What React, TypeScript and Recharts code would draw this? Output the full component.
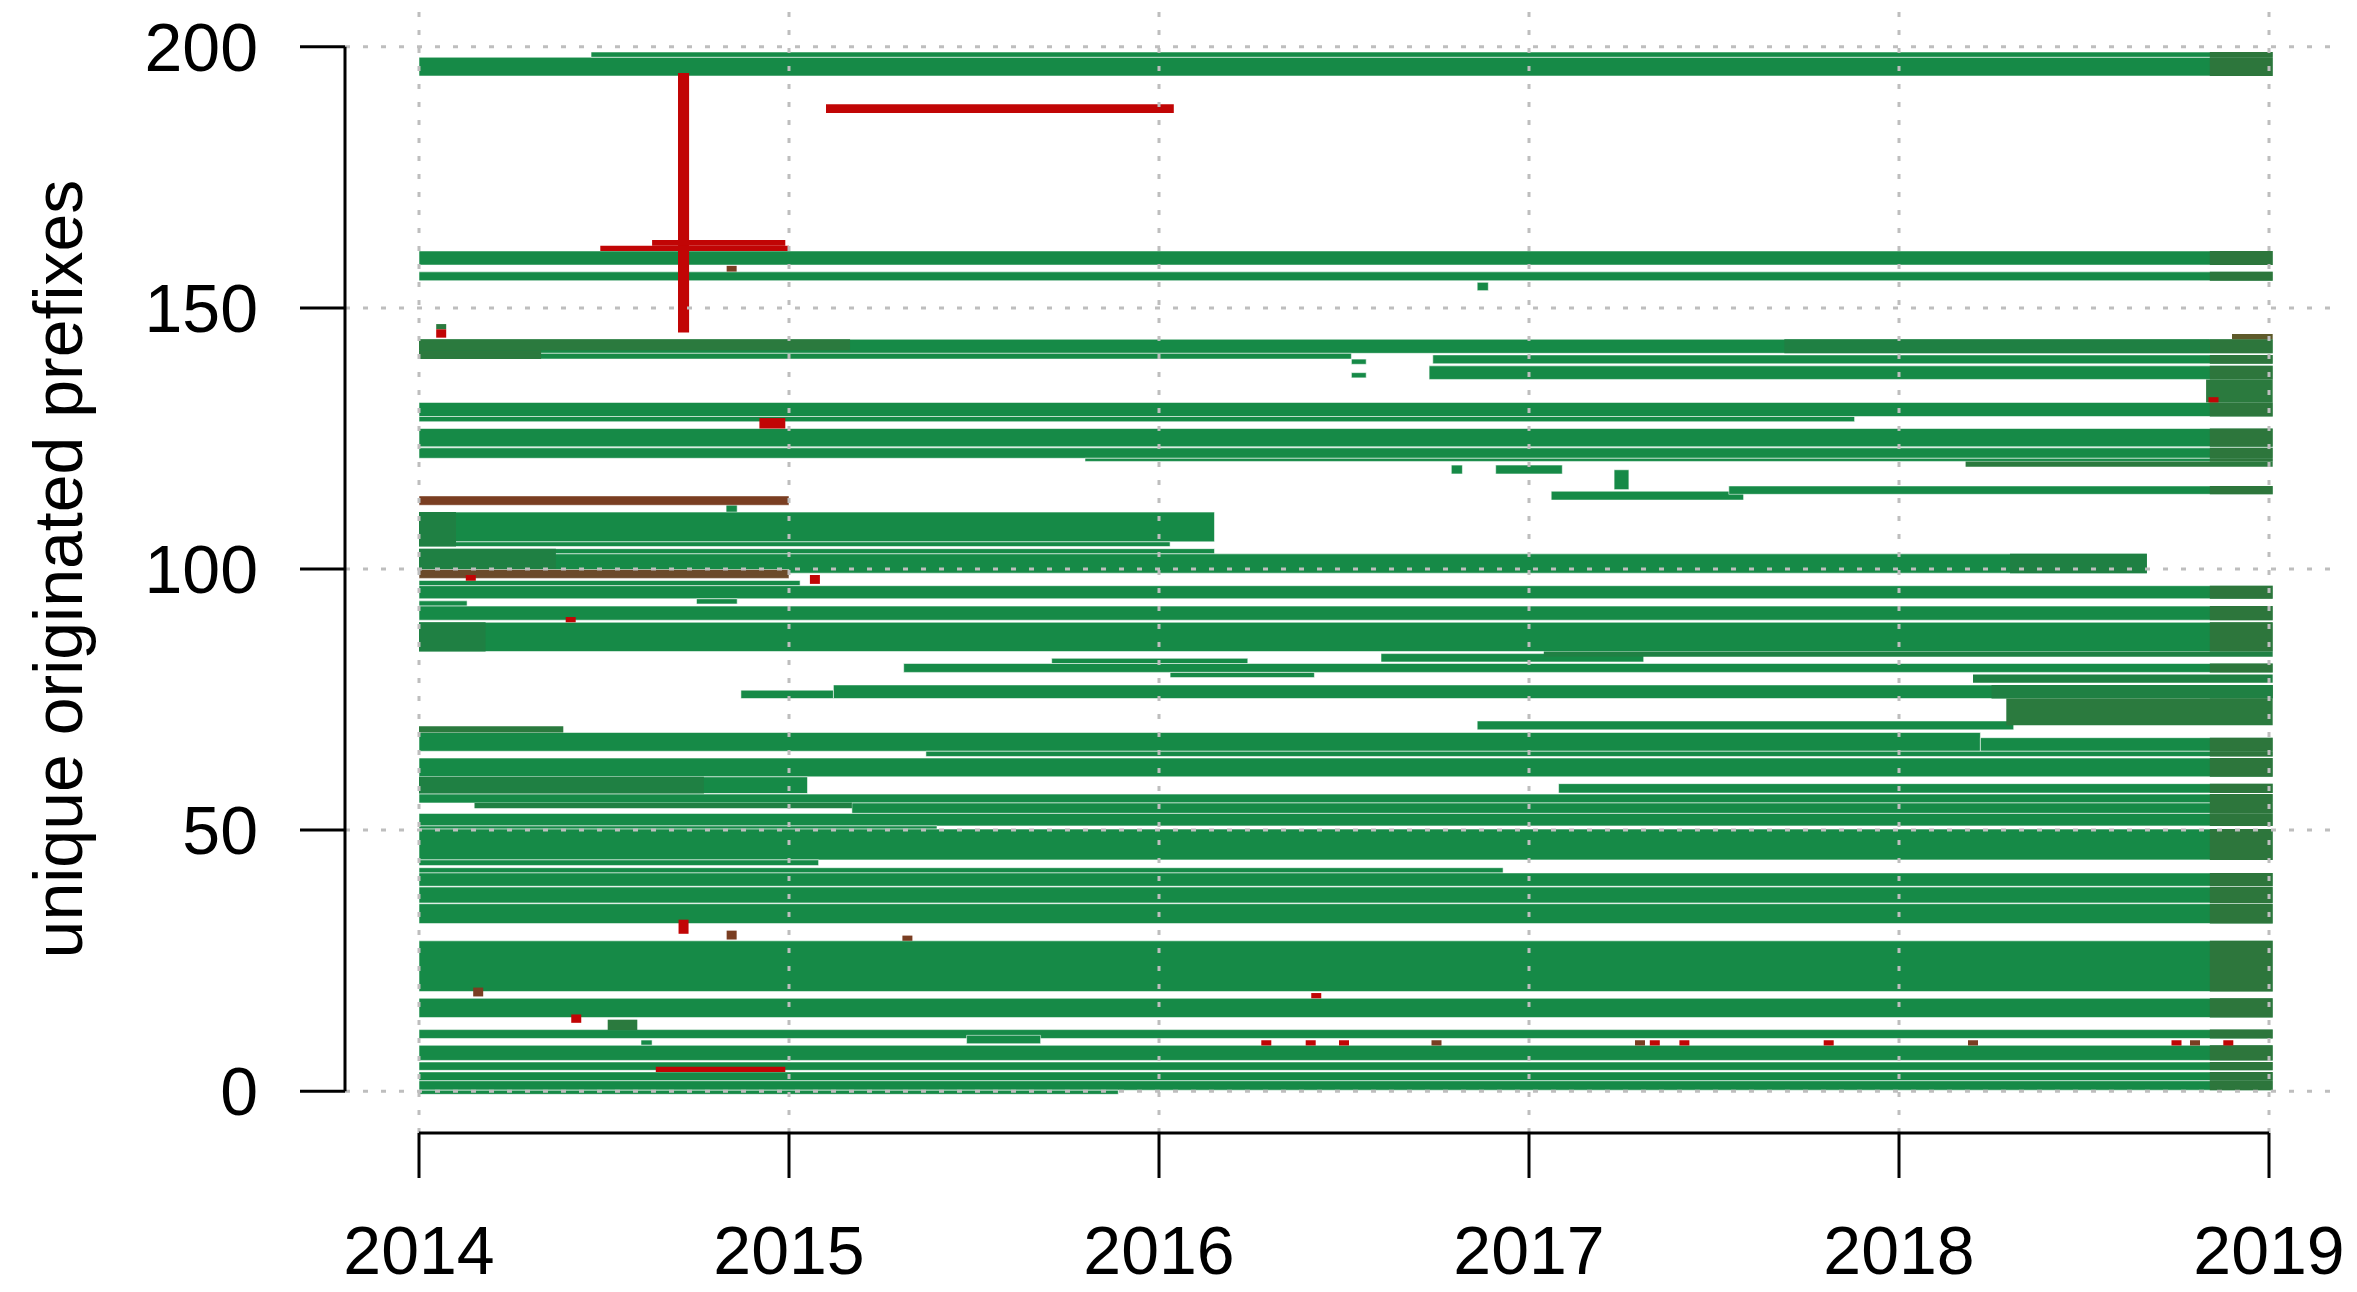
import React from "react";
import {
  ScatterChart,
  Scatter,
  XAxis,
  YAxis,
  ReferenceArea,
  ReferenceLine,
  Label,
} from "recharts";

// time axis runs 2014..2019, rows are prefix indices 0..200
const END = 2019.01;
const TAIL_START = 2018.84;
const yearTicks = [2014, 2015, 2016, 2017, 2018, 2019];
const countTicks = [0, 50, 100, 150, 200];

// [from year, to year, low row, high row]
type Seg = [number, number, number, number];

const greenSegs: Seg[] = [
  [2014.0, END, 194.4, 198.0],
  [2014.465, END, 198.0, 199.0],
  [2014.0, END, 158.2, 160.9],
  [2014.0, END, 155.2, 156.9],
  [2016.86, 2016.89, 153.3, 154.9],
  [2014.0, END, 141.3, 144.0],
  [2014.0, 2016.52, 140.2, 141.3],
  [2016.74, END, 139.3, 141.0],
  [2016.73, END, 136.3, 138.9],
  [2016.52, 2016.56, 139.2, 140.2],
  [2016.52, 2016.56, 136.6, 137.6],
  [2014.0, END, 129.2, 131.9],
  [2014.0, 2017.88, 128.2, 129.2],
  [2014.0, END, 123.4, 126.9],
  [2014.0, END, 121.2, 123.2],
  [2015.8, END, 120.6, 121.2],
  [2016.79, 2016.82, 118.2, 119.9],
  [2016.91, 2017.09, 118.2, 119.9],
  [2017.23, 2017.27, 115.2, 119.0],
  [2017.06, 2017.58, 113.2, 114.9],
  [2017.54, END, 114.3, 115.9],
  [2014.83, 2014.86, 110.6, 112.6],
  [2014.0, 2016.15, 105.2, 110.9],
  [2014.0, 2016.03, 104.3, 105.2],
  [2014.0, 2016.15, 102.9, 103.9],
  [2014.0, 2018.67, 99.2, 102.9],
  [2014.0, 2015.03, 96.8, 97.8],
  [2014.0, END, 94.3, 96.8],
  [2014.75, 2014.86, 93.3, 94.3],
  [2014.0, 2014.13, 92.9, 93.9],
  [2014.0, END, 90.2, 92.9],
  [2014.0, END, 84.2, 89.8],
  [2016.6, 2017.31, 82.2, 83.8],
  [2015.31, END, 80.2, 81.9],
  [2015.71, 2016.24, 81.9, 82.9],
  [2016.03, 2016.42, 79.2, 80.2],
  [2015.12, END, 75.2, 77.8],
  [2014.87, 2015.12, 75.2, 76.8],
  [2016.86, 2018.31, 69.2, 70.9],
  [2014.0, 2018.22, 65.1, 68.7],
  [2018.22, END, 65.1, 67.7],
  [2015.37, END, 64.1, 65.1],
  [2014.0, END, 60.2, 63.8],
  [2014.0, 2015.05, 57.0, 60.2],
  [2017.08, END, 57.1, 58.9],
  [2014.0, END, 55.2, 56.9],
  [2015.17, END, 53.2, 55.2],
  [2014.0, END, 50.8, 53.2],
  [2014.0, 2015.4, 50.2, 50.8],
  [2014.0, END, 44.3, 50.2],
  [2014.0, 2015.08, 43.2, 44.3],
  [2014.0, 2016.93, 41.8, 42.8],
  [2014.0, END, 39.25, 41.8],
  [2014.0, END, 36.05, 39.1],
  [2014.0, END, 32.1, 35.9],
  [2014.0, END, 19.1, 28.8],
  [2014.0, END, 14.1, 17.8],
  [2014.0, END, 10.1, 11.8],
  [2015.48, 2015.68, 9.1, 10.7],
  [2014.6, 2014.63, 8.8, 9.8],
  [2014.0, END, 5.9, 8.8],
  [2014.0, END, 4.0, 5.6],
  [2014.0, END, 2.0, 3.7],
  [2014.0, END, 0.2, 2.0],
  [2014.0, 2015.89, -0.6, 0.2],
];

// clearly darker stretches
const darkSegs: Seg[] = [
  [2014.0, 2015.165, 141.9, 144.0],
  [2014.0, 2014.33, 140.2, 141.9],
  [2018.83, END, 131.9, 136.3],
  [2018.18, END, 119.6, 120.6],
  [2018.29, END, 70.1, 75.2],
  [2014.0, 2014.39, 68.7, 69.9],
  [2014.51, 2014.59, 11.7, 13.7],
];

// slightly darker stretches
const midSegs: Seg[] = [
  [2017.69, TAIL_START, 141.3, 144.0],
  [2014.0, 2014.1, 104.3, 110.9],
  [2014.0, 2014.37, 99.2, 103.9],
  [2018.3, 2018.67, 99.2, 102.9],
  [2014.0, 2014.18, 84.2, 89.8],
  [2017.04, END, 83.2, 84.2],
  [2018.2, END, 78.2, 79.8],
  [2018.25, END, 75.2, 77.8],
  [2014.0, 2014.77, 57.0, 60.2],
  [2014.15, 2015.17, 54.2, 55.2],
];

const redSegs: Seg[] = [
  [2014.7, 2014.73, 145.3, 195.0],
  [2015.1, 2016.04, 187.3, 189.0],
  [2014.49, 2015.0, 160.9, 161.9],
  [2014.63, 2014.99, 161.9, 163.0],
  [2014.92, 2014.99, 126.9, 128.9],
  [2014.64, 2014.99, 3.7, 4.7],
];

const brownSegs: Seg[] = [
  [2014.0, 2015.0, 112.2, 114.0],
  [2014.0, 2015.0, 98.2, 99.9],
];

const oliveSegs: Seg[] = [[2018.9, END, 144.0, 145.0]];

// single-day events: year, row, height in rows
const redMarks = [
  { x: 2014.06, y: 145.1, h: 1.6 },
  { x: 2018.85, y: 132.4, h: 1.0 },
  { x: 2014.14, y: 98.3, h: 1.1 },
  { x: 2015.07, y: 98.0, h: 1.7 },
  { x: 2014.41, y: 90.3, h: 1.0 },
  { x: 2014.715, y: 31.5, h: 2.7 },
  { x: 2016.425, y: 18.3, h: 1.0 },
  { x: 2014.425, y: 13.9, h: 1.6 },
  { x: 2016.29, y: 9.26, h: 1.0 },
  { x: 2016.41, y: 9.26, h: 1.0 },
  { x: 2016.5, y: 9.26, h: 1.0 },
  { x: 2017.34, y: 9.26, h: 1.0 },
  { x: 2017.42, y: 9.26, h: 1.0 },
  { x: 2017.81, y: 9.26, h: 1.0 },
  { x: 2018.75, y: 9.26, h: 1.0 },
  { x: 2018.89, y: 9.26, h: 1.0 },
];

const brownMarks = [
  { x: 2014.845, y: 157.5, h: 1.1 },
  { x: 2014.845, y: 29.9, h: 1.7 },
  { x: 2015.32, y: 29.3, h: 1.0 },
  { x: 2014.16, y: 19.0, h: 1.7 },
  { x: 2016.75, y: 9.26, h: 1.0 },
  { x: 2017.3, y: 9.26, h: 1.0 },
  { x: 2018.2, y: 9.26, h: 1.0 },
  { x: 2018.8, y: 9.26, h: 1.0 },
];

const darkMarks = [{ x: 2014.06, y: 146.4, h: 1.0 }];

const W = 2357;
const H = 1292;
const TOP = 5;
const X_AXIS_H = 159;
const Y_MIN = -8;
const Y_MAX = 208;
const UNIT_PX = (H - TOP - X_AXIS_H) / (Y_MAX - Y_MIN);
const FONT = "'Liberation Sans', Arial, Helvetica, sans-serif";
const FS = 68;

const GREEN = "#168A47";
const MID = "#1F8043";
const DARK = "#2B7A3E";
const TAIL = "#2D763C";
const RED = "#C10505";
const BROWN = "#7A3E22";
const BROWN2 = "#6B4A2A";
const OLIVE = "#5E5A2A";
const GRID = "#BEBEBE";

const markShape = (color: string) => (p: any) => {
  const h = (p.payload?.h ?? 1) * UNIT_PX;
  return <rect x={p.cx - 5} y={p.cy - h / 2} width={10} height={h} fill={color} />;
};

const area = (s: Seg, fill: string, key: string, edge = true) => (
  <ReferenceArea
    key={key}
    x1={s[0]}
    x2={s[1]}
    y1={s[2]}
    y2={s[3]}
    fill={fill}
    fillOpacity={1}
    stroke={edge ? "#ffffff" : "none"}
    strokeOpacity={0.55}
    strokeWidth={1}
    ifOverflow="visible"
  />
);

const YTitle = (props: any) => {
  const vb = props.viewBox || { x: 0, y: TOP, width: 345, height: H - TOP - X_AXIS_H };
  const cx = vb.x + 58;
  const cy = vb.y + vb.height / 2;
  return (
    <text
      x={cx}
      y={cy}
      transform={`rotate(-90 ${cx} ${cy})`}
      textAnchor="middle"
      dominantBaseline="central"
      fontSize={FS}
      fontFamily={FONT}
      fill="#000"
    >
      unique originated prefixes
    </text>
  );
};

export default function App() {
  return (
    <div
      style={{
        position: "absolute",
        left: 0,
        top: 0,
        width: W,
        height: H,
        background: "#fff",
        fontFamily: FONT,
      }}
    >
      <ScatterChart
        width={W}
        height={H}
        margin={{ top: TOP, right: 14, left: 0, bottom: 0 }}
      >
        <XAxis
          type="number"
          dataKey="x"
          domain={[2013.8, 2019.2]}
          ticks={yearTicks}
          allowDataOverflow
          height={X_AXIS_H}
          axisLine={false}
          tickSize={45}
          tickMargin={48}
          tickLine={{ stroke: "#000", strokeWidth: 3 }}
          tick={{ fontSize: FS, fill: "#000", fontFamily: FONT }}
        />
        <YAxis
          type="number"
          dataKey="y"
          domain={[Y_MIN, Y_MAX]}
          ticks={countTicks}
          allowDataOverflow
          width={345}
          axisLine={false}
          tickSize={45}
          tickMargin={42}
          tickLine={{ stroke: "#000", strokeWidth: 3 }}
          tick={{ fontSize: FS, fill: "#000", fontFamily: FONT }}
        >
          <Label content={YTitle} />
        </YAxis>

        {greenSegs.map((s, i) => area(s, GREEN, `g${i}`))}
        {greenSegs
          .filter((s) => s[1] >= END)
          .map((s, i) => area([TAIL_START, END, s[2], s[3]], TAIL, `t${i}`, false))}
        {midSegs.map((s, i) => area(s, MID, `m${i}`, false))}
        {darkSegs.map((s, i) => area(s, DARK, `d${i}`, false))}
        {oliveSegs.map((s, i) => area(s, OLIVE, `o${i}`, false))}
        {brownSegs.map((s, i) => area(s, i === 0 ? BROWN : BROWN2, `b${i}`))}
        {redSegs.map((s, i) => area(s, RED, `r${i}`, false))}

        {yearTicks.map((t) => (
          <ReferenceLine
            key={`vx${t}`}
            x={t}
            stroke={GRID}
            strokeWidth={3}
            strokeDasharray="5 13"
          />
        ))}
        {countTicks.map((t) => (
          <ReferenceLine
            key={`hy${t}`}
            y={t}
            stroke={GRID}
            strokeWidth={3}
            strokeDasharray="5 13"
          />
        ))}

        <Scatter
          data={darkMarks}
          fill={DARK}
          shape={markShape(DARK)}
          isAnimationActive={false}
        />
        <Scatter
          data={brownMarks}
          fill={BROWN}
          shape={markShape(BROWN)}
          isAnimationActive={false}
        />
        <Scatter
          data={redMarks}
          fill={RED}
          shape={markShape(RED)}
          isAnimationActive={false}
        />

        <ReferenceLine
          segment={[
            { x: 2013.8, y: 0 },
            { x: 2013.8, y: 200 },
          ]}
          stroke="#000"
          strokeWidth={3}
          ifOverflow="visible"
        />
        <ReferenceLine
          segment={[
            { x: 2014, y: Y_MIN },
            { x: 2019, y: Y_MIN },
          ]}
          stroke="#000"
          strokeWidth={3}
          ifOverflow="visible"
        />
      </ScatterChart>
    </div>
  );
}
